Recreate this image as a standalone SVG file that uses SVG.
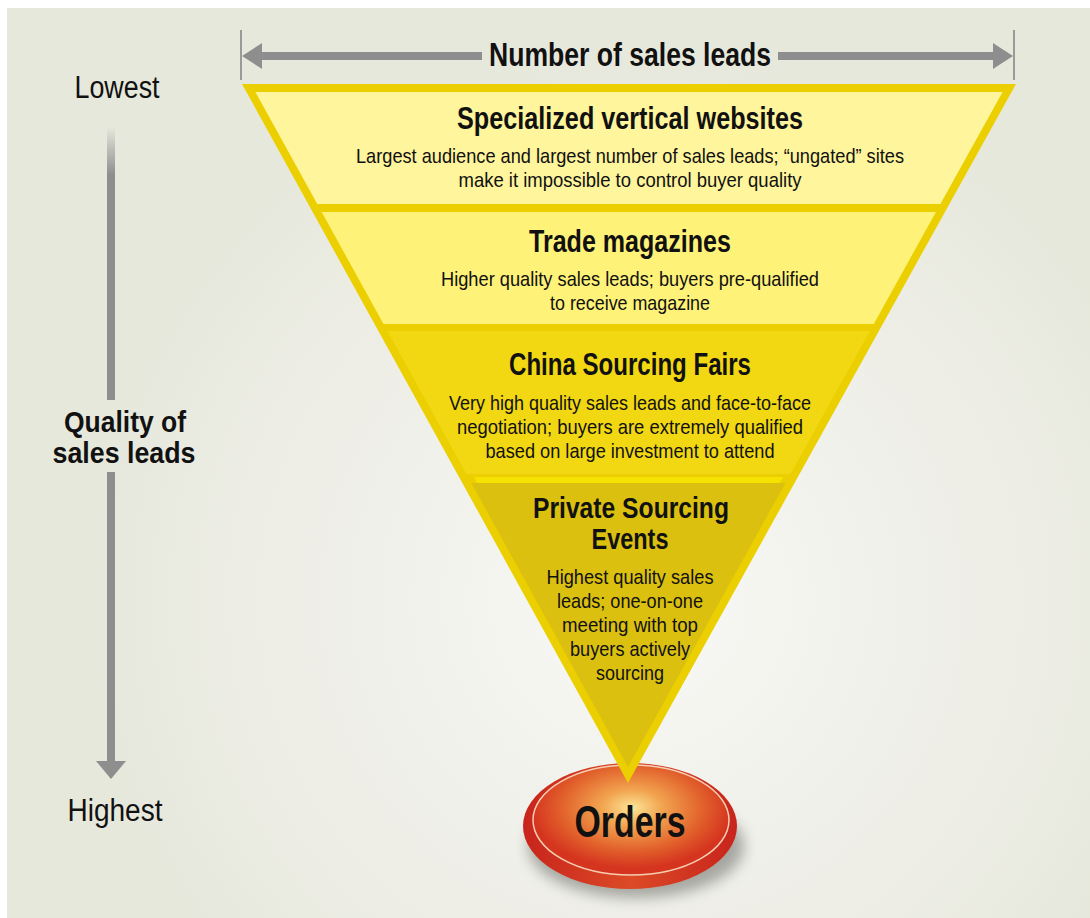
<svg xmlns="http://www.w3.org/2000/svg" width="1090" height="918" viewBox="0 0 1090 918">
<defs>
<radialGradient id="bg" cx="640" cy="600" r="560" gradientUnits="userSpaceOnUse">
<stop offset="0" stop-color="#f8f8f5"/>
<stop offset="0.5" stop-color="#f0f0ea"/>
<stop offset="1" stop-color="#e7e8dc"/>
</radialGradient>
<radialGradient id="face" cx="632" cy="808" r="100" gradientUnits="userSpaceOnUse" gradientTransform="translate(632 808) scale(1 0.6) translate(-632 -808)">
<stop offset="0" stop-color="#fbe699"/>
<stop offset="0.3" stop-color="#f2a550"/>
<stop offset="0.7" stop-color="#e2622c"/>
<stop offset="1" stop-color="#d5351f"/>
</radialGradient>
<linearGradient id="rim" x1="0" y1="0" x2="1" y2="0">
<stop offset="0" stop-color="#c8241c"/>
<stop offset="0.5" stop-color="#dc4a26"/>
<stop offset="1" stop-color="#c8241c"/>
</linearGradient>
<linearGradient id="vfade" x1="0" y1="127" x2="0" y2="175" gradientUnits="userSpaceOnUse">
<stop offset="0" stop-color="#8e8e8e" stop-opacity="0"/>
<stop offset="1" stop-color="#8e8e8e" stop-opacity="1"/>
</linearGradient>
<filter id="blur" x="-30%" y="-30%" width="160%" height="160%">
<feGaussianBlur stdDeviation="7"/>
</filter>
<style>
.t{font-family:"Liberation Sans",Arial,sans-serif;font-weight:bold;font-size:32px;fill:#111;text-anchor:middle}
.b{font-family:"Liberation Sans",Arial,sans-serif;font-size:21px;fill:#111;text-anchor:middle}
.side{font-family:"Liberation Sans",Arial,sans-serif;font-size:31px;fill:#111;text-anchor:middle}
.gray{fill:#8e8e8e}
</style>
</defs>

<rect x="0" y="0" width="1090" height="918" fill="#ffffff"/>
<rect x="7" y="8" width="1083" height="910" fill="url(#bg)"/>

<g id="axis-top">
<line x1="241" y1="30" x2="241" y2="80" stroke="#9a9a9a" stroke-width="2"/>
<line x1="1014" y1="30" x2="1014" y2="80" stroke="#9a9a9a" stroke-width="2"/>
<rect class="gray" x="258" y="52" width="224" height="8"/>
<rect class="gray" x="778" y="52" width="218" height="8"/>
<polygon class="gray" points="242,56 262,43 262,69"/>
<polygon class="gray" points="1013,56 993,43 993,69"/>
<text class="t" x="630" y="66" style="font-size:34px" textLength="282" lengthAdjust="spacingAndGlyphs">Number of sales leads</text>
</g>

<g id="axis-left">
<text class="side" x="117" y="98" textLength="85" lengthAdjust="spacingAndGlyphs">Lowest</text>
<rect x="107" y="127" width="8" height="48" fill="url(#vfade)"/>
<rect class="gray" x="107" y="175" width="8" height="225"/>
<rect class="gray" x="107" y="472" width="8" height="290"/>
<polygon class="gray" points="96,761 126,761 111,779"/>
<text class="t" x="125" y="432" style="font-size:30px" textLength="122" lengthAdjust="spacingAndGlyphs">Quality of</text>
<text class="t" x="124" y="463" style="font-size:30px" textLength="143" lengthAdjust="spacingAndGlyphs">sales leads</text>
<text class="side" x="115" y="821" textLength="95" lengthAdjust="spacingAndGlyphs">Highest</text>
</g>

<g id="orders">
<ellipse cx="636" cy="846" rx="108" ry="52" fill="#6a6a66" opacity="0.55" filter="url(#blur)"/>
<ellipse cx="630" cy="826" rx="107" ry="63" fill="url(#rim)"/>
<ellipse cx="631" cy="820" rx="98" ry="55" fill="url(#face)" stroke="#f6cfb2" stroke-width="1.5"/>
<text class="t" x="630" y="837" style="font-size:45px" textLength="111" lengthAdjust="spacingAndGlyphs">Orders</text>
</g>

<g id="funnel">
<polygon points="242,84 1016,84 628,783" fill="#ebcf00"/>
<polygon points="474,477 783,477 628,762" fill="#f6e200"/>
</g>

<g id="band1">
<polygon points="255.4,92 1002.6,92 940.4,204 317.3,204" fill="#fff59c"/>
<text class="t" x="630" y="129" textLength="346" lengthAdjust="spacingAndGlyphs">Specialized vertical websites</text>
<text class="b" x="630" y="163" textLength="548" lengthAdjust="spacingAndGlyphs">Largest audience and largest number of sales leads; “ungated” sites</text>
<text class="b" x="630" y="187" textLength="343" lengthAdjust="spacingAndGlyphs">make it impossible to control buyer quality</text>
</g>

<g id="band2">
<polygon points="321.7,212 935.9,212 873.8,324 383.5,324" fill="#fff278"/>
<text class="t" x="630" y="252" textLength="202" lengthAdjust="spacingAndGlyphs">Trade magazines</text>
<text class="b" x="630" y="286" textLength="378" lengthAdjust="spacingAndGlyphs">Higher quality sales leads; buyers pre-qualified</text>
<text class="b" x="630" y="310" textLength="160" lengthAdjust="spacingAndGlyphs">to receive magazine</text>
</g>

<g id="band3">
<polygon points="387.4,331 869.9,331 790.5,474 466.4,474" fill="#f1d812"/>
<text class="t" x="630" y="375" textLength="242" lengthAdjust="spacingAndGlyphs">China Sourcing Fairs</text>
<text class="b" x="630" y="410" textLength="362" lengthAdjust="spacingAndGlyphs">Very high quality sales leads and face-to-face</text>
<text class="b" x="630" y="434" textLength="346" lengthAdjust="spacingAndGlyphs">negotiation; buyers are extremely qualified</text>
<text class="b" x="630" y="458" textLength="289" lengthAdjust="spacingAndGlyphs">based on large investment to attend</text>
</g>

<g id="band4">
<polygon points="471.3,483 785.5,483 628,767" fill="#dbc010"/>
<text class="t" x="631" y="518" style="font-size:30px" textLength="196" lengthAdjust="spacingAndGlyphs">Private Sourcing</text>
<text class="t" x="630" y="549" style="font-size:30px" textLength="77" lengthAdjust="spacingAndGlyphs">Events</text>
<text class="b" x="630" y="584" textLength="167" lengthAdjust="spacingAndGlyphs">Highest quality sales</text>
<text class="b" x="630" y="608" textLength="146" lengthAdjust="spacingAndGlyphs">leads; one-on-one</text>
<text class="b" x="630" y="632" textLength="136" lengthAdjust="spacingAndGlyphs">meeting with top</text>
<text class="b" x="630" y="656" textLength="120" lengthAdjust="spacingAndGlyphs">buyers actively</text>
<text class="b" x="630" y="680" textLength="68" lengthAdjust="spacingAndGlyphs">sourcing</text>
</g>
</svg>
